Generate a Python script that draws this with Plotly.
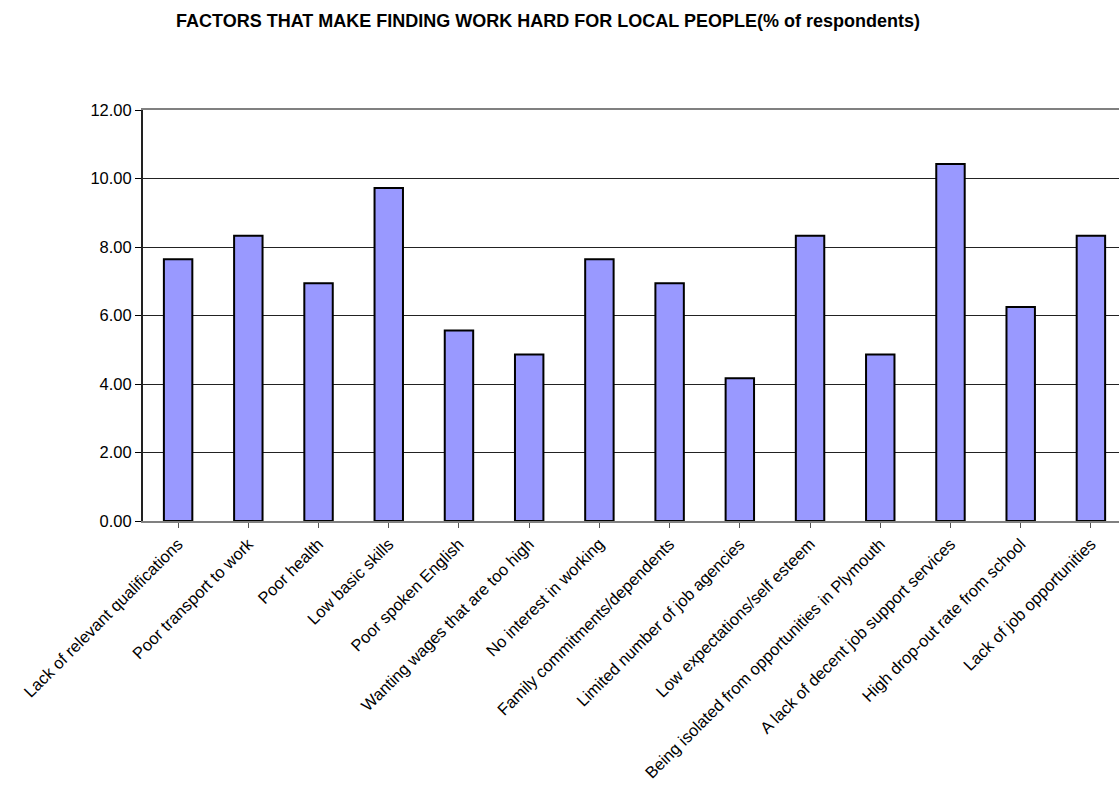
import plotly.graph_objects as go

categories = [
    "Lack of relevant qualifications",
    "Poor transport to work",
    "Poor health",
    "Low basic skills",
    "Poor spoken English",
    "Wanting wages that are too high",
    "No interest in working",
    "Family commitments/dependents",
    "Limited number of job agencies",
    "Low expectations/self esteem",
    "Being isolated from opportunities in Plymouth",
    "A lack of decent job support services",
    "High drop-out rate from school",
    "Lack of job opportunities",
]
values = [7.64, 8.33, 6.94, 9.72, 5.56, 4.86, 7.64, 6.94, 4.17, 8.33, 4.86, 10.42, 6.25, 8.33]
y_ticks = [0, 2, 4, 6, 8, 10, 12]

fig = go.Figure(
    go.Bar(
        x=list(range(len(categories))),
        y=values,
        width=0.405,
        marker=dict(color="#9999FF", line=dict(color="black", width=2)),
    )
)

fig.update_layout(
    width=1119,
    height=792,
    margin=dict(l=143, r=0, t=110, b=271),
    paper_bgcolor="white",
    plot_bgcolor="white",
    showlegend=False,
    title=dict(
        text="<b>FACTORS THAT MAKE FINDING WORK HARD FOR LOCAL PEOPLE(% of respondents)</b>",
        x=548 / 1119,
        xanchor="center",
        y=1 - 21 / 792,
        yanchor="middle",
        font=dict(family="Liberation Sans Narrow, Arial Narrow, Liberation Sans", size=18, color="black"),
    ),
    font=dict(family="Liberation Sans, Arial", size=16, color="black"),
)

fig.update_xaxes(
    range=[-0.5, 13.4],
    tickmode="array",
    tickvals=list(range(len(categories))),
    ticktext=categories,
    tickangle=-45,
    ticks="outside",
    ticklen=5,
    tickcolor="#555555",
    tickson="boundaries",
    showgrid=False,
    showline=True,
    linecolor="#808080",
    linewidth=2,
    mirror=True,
    tickfont=dict(size=16.5),
)

fig.update_yaxes(
    range=[0, 12],
    tickvals=y_ticks,
    tickformat=".2f",
    ticks="outside",
    ticklen=6,
    tickcolor="black",
    showgrid=True,
    gridcolor="#222222",
    gridwidth=1,
    showline=True,
    linecolor="#222222",
    linewidth=2,
    zeroline=False,
    tickfont=dict(size=16.5),
)

fig.write_html("out.html")
